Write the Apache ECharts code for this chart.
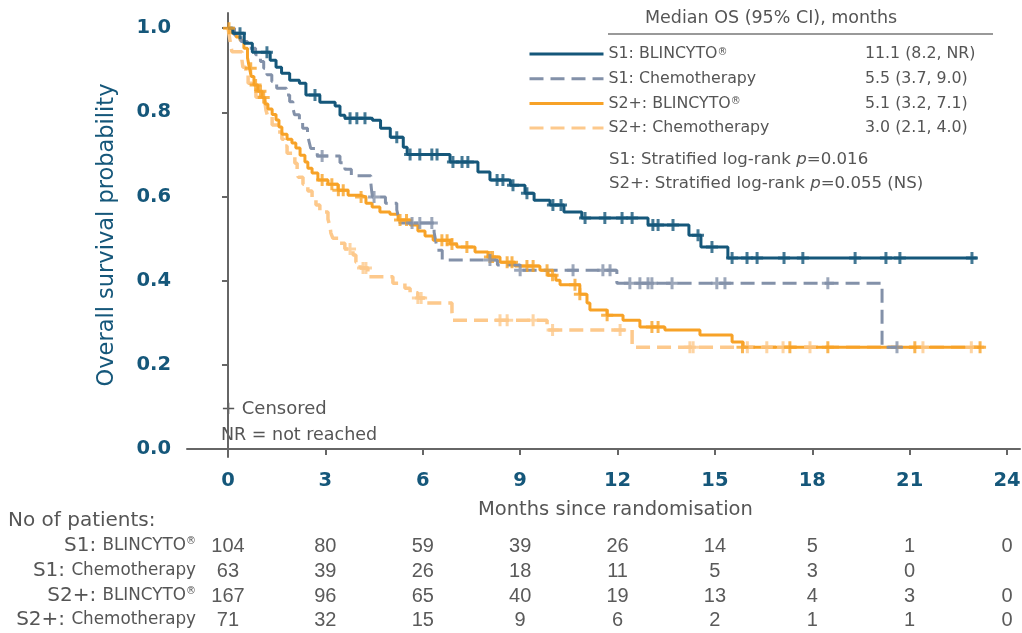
<!DOCTYPE html>
<html>
<head>
<meta charset="utf-8">
<script src="https://cdn.jsdelivr.net/npm/echarts@6/dist/echarts.min.js"></script>
<style>
  html, body { margin: 0; padding: 0; background: #fff; }
  #km { width: 1022px; height: 633px; }
</style>
</head>
<body>
<div id="km"></div>
<script>
// tick positions (months) and y ticks
var monthTicks = [0, 3, 6, 9, 12, 15, 18, 21, 24];
var probTicks = [0, 0.2, 0.4, 0.6, 0.8, 1.0];

var groupNames = ['S1: BLINCYTO®', 'S1: Chemotherapy', 'S2+: BLINCYTO®', 'S2+: Chemotherapy'];
var medians = ['11.1 (8.2, NR)', '5.5 (3.7, 9.0)', '5.1 (3.2, 7.1)', '3.0 (2.1, 4.0)'];

// KM steps: [month, survival after the drop]
var s1Blin = [[0,1],[0.15,0.988],[0.5,0.964],[0.75,0.943],[1.3,0.924],[1.48,0.907],[1.65,0.893],[1.9,0.876],[2.2,0.869],[2.4,0.841],[2.83,0.824],[3.3,0.815],[3.45,0.793],[3.6,0.786],[4.45,0.781],[4.7,0.762],[5.0,0.741],[5.4,0.717],[5.52,0.70],[6.84,0.682],[7.7,0.658],[8.07,0.639],[8.7,0.627],[9.15,0.608],[9.43,0.591],[9.92,0.580],[10.35,0.563],[10.9,0.549],[12.94,0.532],[14.2,0.508],[14.57,0.480],[15.4,0.454],[23.07,0.454]];
var s1Chemo = [[0,1],[0.2,0.984],[0.4,0.968],[0.6,0.952],[0.85,0.937],[1.0,0.921],[1.1,0.905],[1.2,0.889],[1.35,0.873],[1.5,0.857],[1.8,0.841],[1.9,0.825],[2.0,0.810],[2.05,0.794],[2.2,0.778],[2.3,0.762],[2.45,0.746],[2.5,0.730],[2.55,0.714],[2.75,0.696],[3.45,0.68],[3.6,0.665],[3.8,0.649],[4.4,0.633],[4.42,0.617],[4.45,0.599],[4.85,0.584],[5.2,0.568],[5.25,0.552],[5.3,0.537],[6.35,0.515],[6.4,0.494],[6.45,0.472],[6.6,0.449],[8.3,0.437],[9.0,0.425],[11.98,0.394],[20.15,0.242],[20.61,0.242]];
var s2Blin = [[0,1],[0.12,0.988],[0.25,0.979],[0.37,0.971],[0.49,0.952],[0.6,0.930],[0.66,0.905],[0.72,0.885],[0.8,0.865],[0.92,0.850],[1.05,0.835],[1.14,0.820],[1.23,0.808],[1.36,0.795],[1.48,0.782],[1.57,0.765],[1.66,0.748],[1.82,0.736],[1.97,0.727],[2.09,0.715],[2.22,0.698],[2.37,0.682],[2.46,0.667],[2.59,0.656],[2.77,0.639],[3.08,0.629],[3.39,0.615],[3.70,0.603],[4.07,0.599],[4.25,0.584],[4.44,0.575],[4.68,0.563],[4.99,0.558],[5.24,0.544],[5.61,0.532],[5.85,0.518],[6.07,0.506],[6.32,0.496],[6.84,0.487],[7.05,0.480],[7.61,0.468],[8.01,0.456],[8.38,0.444],[8.84,0.435],[9.61,0.425],[9.86,0.413],[10.10,0.401],[10.23,0.390],[10.84,0.368],[11.06,0.347],[11.15,0.330],[11.68,0.318],[12.17,0.306],[12.69,0.290],[13.46,0.283],[14.54,0.271],[15.53,0.254],[15.87,0.242],[23.2,0.242]];
var s2Chemo = [[0,1],[0.03,0.986],[0.06,0.972],[0.09,0.958],[0.12,0.944],[0.43,0.924],[0.46,0.907],[0.55,0.888],[0.62,0.869],[0.74,0.853],[0.86,0.836],[1.14,0.822],[1.17,0.805],[1.23,0.789],[1.36,0.770],[1.54,0.753],[1.66,0.736],[1.73,0.720],[1.82,0.703],[2.06,0.679],[2.13,0.663],[2.16,0.646],[2.31,0.629],[2.46,0.613],[2.59,0.596],[2.71,0.580],[2.83,0.563],[3.08,0.546],[3.14,0.530],[3.17,0.513],[3.23,0.501],[3.45,0.489],[3.60,0.475],[3.85,0.461],[3.94,0.444],[4.07,0.430],[4.31,0.409],[5.08,0.394],[5.45,0.382],[5.61,0.371],[5.85,0.359],[6.07,0.347],[6.90,0.325],[6.93,0.306],[9.83,0.283],[12.45,0.242],[23.3,0.242]];

// censored observations
var s1BlinCens = [[0.37,0.988],[1.2,0.943],[2.68,0.841],[3.76,0.786],[3.97,0.786],[4.22,0.786],[5.2,0.741],[5.61,0.70],[5.91,0.70],[6.28,0.70],[6.44,0.70],[6.93,0.682],[7.21,0.682],[7.39,0.682],[8.29,0.639],[8.47,0.639],[8.78,0.627],[9.21,0.608],[10.01,0.580],[10.26,0.580],[11.0,0.549],[11.61,0.549],[12.14,0.549],[12.45,0.549],[13.09,0.532],[13.25,0.532],[13.71,0.532],[14.48,0.508],[14.91,0.480],[15.53,0.454],[15.99,0.454],[16.30,0.454],[17.13,0.454],[17.71,0.454],[19.32,0.454],[20.27,0.454],[20.70,0.454],[22.92,0.454]];
var s1ChemoCens = [[2.9,0.696],[4.5,0.599],[5.67,0.537],[5.91,0.537],[6.28,0.537],[8.07,0.449],[9.0,0.425],[10.63,0.425],[11.55,0.425],[11.77,0.425],[12.38,0.394],[12.69,0.394],[12.94,0.394],[13.06,0.394],[13.68,0.394],[15.06,0.394],[15.31,0.394],[18.48,0.394],[20.61,0.242]];
var s2BlinCens = [[0.03,1.0],[0.7,0.905],[0.85,0.865],[1.0,0.850],[1.1,0.835],[2.9,0.639],[3.2,0.629],[3.4,0.615],[3.55,0.615],[4.1,0.599],[5.3,0.544],[5.5,0.544],[6.59,0.496],[6.75,0.496],[6.9,0.487],[7.36,0.480],[8.07,0.456],[8.15,0.456],[8.6,0.444],[8.75,0.444],[9.21,0.435],[9.4,0.435],[9.83,0.425],[10.0,0.413],[10.69,0.390],[10.84,0.368],[11.68,0.318],[13.06,0.290],[13.25,0.290],[15.85,0.242],[17.31,0.242],[18.48,0.242],[21.16,0.242],[23.17,0.242]];
var s2ChemoCens = [[3.76,0.475],[4.16,0.430],[4.25,0.430],[5.85,0.359],[5.95,0.359],[8.38,0.306],[8.6,0.306],[9.4,0.306],[10.0,0.283],[12.08,0.283],[14.23,0.242],[14.33,0.242],[16.0,0.242],[16.6,0.242],[17.1,0.242],[17.93,0.242],[21.41,0.242],[22.9,0.242]];

// number at risk at each month tick
var riskS1Blin = [104, 80, 59, 39, 26, 14, 5, 1, 0];
var riskS1Chemo = [63, 39, 26, 18, 11, 5, 3, 0];
var riskS2Blin = [167, 96, 65, 40, 19, 13, 4, 3, 0];
var riskS2Chemo = [71, 32, 15, 9, 6, 2, 1, 1, 0];

var TEAL = '#15577a', GREY = '#8391a9', ORANGE = '#f7a227', PALE = '#fdc98c';
var TXT = '#555555', FONT = '"DejaVu Sans", sans-serif';
var plus = 'path://M3.75,0h2.5v3.75h3.75v2.5h-3.75v3.75h-2.5v-3.75h-3.75v-2.5h3.75z';
var xMin = -1.263, xMax = 24.4;
var rowY = [53, 77.7, 102.4, 127];

var myChart = echarts.init(document.getElementById('km'));

function riskAxis(counts, off) {
    return {
        type: 'value', min: xMin, max: xMax, position: 'bottom', offset: off,
        axisLine: {show: false}, axisTick: {show: false}, splitLine: {show: false},
        axisLabel: {
            customValues: monthTicks, margin: 0, verticalAlign: 'middle',
            fontSize: 20, color: '#5a5a5a', fontFamily: '"Liberation Sans", sans-serif',
            formatter: function (v) {
                var c = counts[Math.round(v / 3)];
                return c === undefined ? '' : String(c);
            }
        }
    };
}

function kmLine(name, data, color, dash, width) {
    return {
        name: name, type: 'line', step: 'end', symbol: 'none', data: data,
        lineStyle: {color: color, width: width, type: dash}, itemStyle: {color: color},
        z: 2
    };
}
function cens(data, color) {
    return {
        type: 'scatter', data: data, symbol: plus, symbolSize: 12,
        itemStyle: {color: color}, z: 3, silent: true
    };
}

function txt(str, x, y, size, extra) {
    var s = {text: str, x: x, y: y, fontSize: size, fill: TXT, fontFamily: FONT, verticalAlign: 'middle'};
    for (var k in extra) s[k] = extra[k];
    return {type: 'text', style: s};
}

function rowLabel(main, small, y) {
    var reg = small.indexOf('®') >= 0;
    return txt('{a|' + main + '}{b|' + small.replace('®', '') + '}' + (reg ? '{r|®}' : ''), 196, y, 17, {
        align: 'right',
        rich: {
            a: {fontSize: 20, fill: TXT, fontFamily: FONT, verticalAlign: 'middle'},
            b: {fontSize: 16.8, fill: TXT, fontFamily: FONT, verticalAlign: 'middle'},
            r: {fontSize: 10, fill: TXT, fontFamily: FONT, verticalAlign: 'top', padding: [0, 0, 8, 0]}
        }
    });
}

// one legend block per row so that the rows sit exactly where the reference has them
function legendRow(i) {
    return {
        data: [groupNames[i]], orient: 'vertical', left: 528, top: rowY[i] - 7, padding: 0,
        itemWidth: 74, itemHeight: 14,
        itemStyle: {opacity: 0},
        lineStyle: {width: 3},
        formatter: function (n) {
            return '{n|' + n.replace('®', '') + '}' + (n.indexOf('®') >= 0 ? '{r|®}' : '');
        },
        textStyle: {
            fontSize: 15.8, color: TXT, fontFamily: FONT,
            rich: {
                n: {fontSize: 15.8, color: TXT, fontFamily: FONT, lineHeight: 14},
                r: {fontSize: 10, color: TXT, fontFamily: FONT, verticalAlign: 'top', lineHeight: 14}
            }
        },
        selectedMode: false
    };
}

var italicP = {i: {fontStyle: 'italic', fontSize: 16.6, fill: TXT, fontFamily: FONT}};

var medianTexts = medians.map(function (m, i) {
    return txt(m, 865, rowY[i] + 1, 15.8);
});

option = {
    animation: false,
    grid: {left: 187, right: 2, top: 13, bottom: 176, outerBoundsMode: 'none'},
    xAxis: [
        {
            type: 'value', min: xMin, max: xMax,
            axisLine: {lineStyle: {color: '#666', width: 2}},
            axisTick: {customValues: monthTicks, length: 6, lineStyle: {color: '#666', width: 2}},
            axisLabel: {customValues: monthTicks, margin: 14, fontSize: 19.5, fontWeight: 'bold',
                color: TEAL, fontFamily: FONT},
            splitLine: {show: false}
        },
        riskAxis(riskS1Blin, 89),
        riskAxis(riskS1Chemo, 114),
        riskAxis(riskS2Blin, 139),
        riskAxis(riskS2Chemo, 163)
    ],
    yAxis: {
        type: 'value', min: -0.019, max: 1.036,
        name: 'Overall survival probability', nameLocation: 'middle', nameGap: 68,
        nameTextStyle: {fontSize: 22.5, color: TEAL, fontFamily: FONT},
        axisLine: {show: true, lineStyle: {color: '#666', width: 2}},
        axisTick: {show: true, customValues: probTicks, length: 6, lineStyle: {color: '#666', width: 2}},
        axisLabel: {customValues: probTicks, margin: 16, fontSize: 19.5, fontWeight: 'bold',
            color: TEAL, fontFamily: FONT, formatter: function (v) { return v.toFixed(1); }},
        splitLine: {show: false}
    },
    legend: [legendRow(0), legendRow(1), legendRow(2), legendRow(3)],
    graphic: [
        txt('Median OS (95% CI), months', 645, 18, 17.5),
        {type: 'line', shape: {x1: 608, y1: 34, x2: 993, y2: 34}, style: {stroke: '#777', lineWidth: 1.5}},
        txt('S1: Stratified log-rank {i|p}=0.016', 609, 160, 16.6, {rich: italicP}),
        txt('S2+: Stratified log-rank {i|p}=0.055 (NS)', 609, 184, 16.6, {rich: italicP}),
        txt('+ Censored', 221, 409, 18),
        txt('NR = not reached', 221, 435, 17.5),
        txt('Months since randomisation', 478, 510, 19.5),
        txt('No of patients:', 8, 521, 20),
        rowLabel('S1: ', 'BLINCYTO®', 546),
        rowLabel('S1: ', 'Chemotherapy', 571),
        rowLabel('S2+: ', 'BLINCYTO®', 596),
        rowLabel('S2+: ', 'Chemotherapy', 620)
    ].concat(medianTexts),
    series: [
        kmLine(groupNames[3], s2Chemo, PALE, [14, 7], 3.5),
        kmLine(groupNames[2], s2Blin, ORANGE, 'solid', 3),
        kmLine(groupNames[1], s1Chemo, GREY, [14, 7], 3),
        kmLine(groupNames[0], s1Blin, TEAL, 'solid', 3),
        cens(s2ChemoCens, PALE),
        cens(s2BlinCens, ORANGE),
        cens(s1ChemoCens, GREY),
        cens(s1BlinCens, TEAL)
    ]
};

if (option && typeof option === "object") {
    myChart.setOption(option, true);
}
</script>
</body>
</html>
